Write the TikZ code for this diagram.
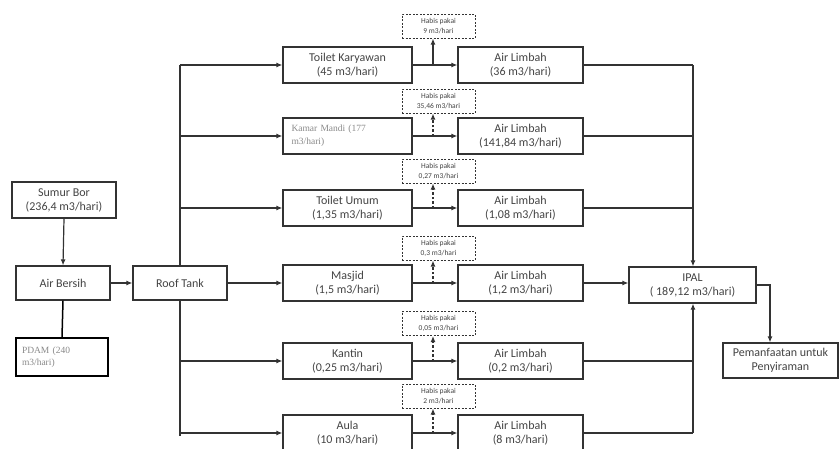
\documentclass[tikz,border=0pt]{standalone}
\usepackage{fontspec}
\setmainfont{Carlito}
\newfontfamily\grayserif{Liberation Serif}
\usetikzlibrary{arrows.meta}
\definecolor{ln}{HTML}{333333}
\definecolor{tx}{HTML}{444444}
\definecolor{gtx}{HTML}{8A8A8A}
\tikzset{
  box/.style={draw=ln, line width=1.2pt, fill=white, text=tx, align=center, inner sep=1pt, font=\fontsize{12}{14}\selectfont},
  habis/.style={draw=ln, dashed, dash pattern=on 2pt off 1.5pt, line width=1pt, fill=white, text=tx, align=center, minimum width=73pt, minimum height=24pt, inner sep=0pt, font=\fontsize{7.5}{10}\selectfont},
  con/.style={draw=ln, line width=1.2pt},
  arr/.style={con, -{Latex[length=6pt,width=5pt]}},
  darr/.style={arr, dashed, dash pattern=on 2.5pt off 2pt}
}
\begin{document}
\begin{tikzpicture}[x=1pt,y=-1pt]
\clip (0,0) rectangle (839,448);
\fill[white] (0,0) rectangle (839,448);

% left part
\node[box, minimum width=104pt, minimum height=36pt] (sumur) at (64,200) {Sumur Bor\\(236,4 m3/hari)};
\node[box, minimum width=94pt, minimum height=34pt] (bersih) at (63,283) {Air Bersih};
\node[box, draw=black, line width=1.5pt, minimum width=92pt, minimum height=38pt, text=gtx, align=left, text width=80pt, font=\grayserif\fontsize{9.5}{12}\selectfont] (pdam) at (62,357) {PDAM (240\\m3/hari)};
\node[box, minimum width=94pt, minimum height=34pt] (roof) at (180,283) {Roof Tank};

\draw[arr] (sumur.south) -- (bersih.north);
\draw[arr] (bersih.east) -- (roof.west);
\draw[con, draw=black, line width=1.5pt] (bersih.south) -- (pdam.north);

% rows
\foreach \n/\y/\src/\lim in {
  1/65/{Toilet Karyawan\\(45 m3/hari)}/{Air Limbah\\(36 m3/hari)},
  3/208/{Toilet Umum\\(1,35 m3/hari)}/{Air Limbah\\(1,08 m3/hari)},
  4/283/{Masjid\\(1,5 m3/hari)}/{Air Limbah\\(1,2 m3/hari)},
  5/361/{Kantin\\(0,25 m3/hari)}/{Air Limbah\\(0,2 m3/hari)},
  6/433/{Aula\\(10 m3/hari)}/{Air Limbah\\(8 m3/hari)}}{
  \node[box, minimum width=129pt, minimum height=36pt] (s\n) at (347.5,\y) {\src};
  \node[box, minimum width=125pt, minimum height=36pt] (l\n) at (520.5,\y) {\lim};
}
\node[box, minimum width=129pt, minimum height=36pt, text=gtx, align=left, text width=112pt, font=\grayserif\fontsize{9.5}{13}\selectfont] (s2) at (347.5,136) {Kamar Mandi (177\\m3/hari)};
\node[box, minimum width=125pt, minimum height=36pt] (l2) at (520.5,136) {Air Limbah\\(141,84 m3/hari)};

% habis pakai
\node[habis] (h1) at (438.5,26) {Habis pakai\\9 m3/hari};
\node[habis] (h2) at (438.5,101) {Habis pakai\\35,46 m3/hari};
\node[habis] (h3) at (438.5,171) {Habis pakai\\0,27 m3/hari};
\node[habis] (h4) at (438.5,248) {Habis pakai\\0,3 m3/hari};
\node[habis] (h5) at (438.5,323.5) {Habis pakai\\0,05 m3/hari};
\node[habis] (h6) at (438.5,396) {Habis pakai\\2 m3/hari};

\foreach \n in {1,...,6}{
  \draw[arr] (s\n.east) -- (l\n.west);
  \coordinate (j\n) at (433,0 |- s\n.east);
}
\draw[arr] (j1) -- (433,0 |- h1.south);
\foreach \n in {2,...,6}{
  \draw[darr] (j\n) -- (433,0 |- h\n.south);
}

% trunk
\coordinate (t1) at (180,65);
\draw[con, line width=1.5pt] (roof.north) -- (t1);
\draw[con, line width=1.5pt] (roof.south) -- (180,436);
\foreach \n in {1,2,3,5,6}{
  \draw[arr] (180,0 |- s\n.west) -- (s\n.west);
}
\draw[arr] (roof.east) -- (s4.west);

% IPAL
\node[box, minimum width=127pt, minimum height=36pt] (ipal) at (692.5,285) {IPAL\\( 189,12 m3/hari)};
\node[box, minimum width=115pt, minimum height=35pt] (pem) at (780.5,360.5) {Pemanfaatan untuk\\Penyiraman};

\draw[con] (l1.east) -- (693,0 |- l1.east);
\draw[con] (l2.east) -- (693,0 |- l2.east);
\draw[arr, line width=1.5pt] (693,0 |- l1.east) -- (ipal.north -| 693,0);
\draw[arr] (l4.east) -- (l4.east -| ipal.west);
\draw[con] (l3.east) -- (693,0 |- l3.east);
\draw[con] (l5.east) -- (693,0 |- l5.east);
\draw[con] (l6.east) -- (693,0 |- l6.east);
\draw[arr, line width=1.5pt] (693,0 |- l6.east) -- (ipal.south -| 693,0);
\draw[arr] (ipal.east) -- (770,0 |- ipal.east) -- (770,0 |- pem.north);
\end{tikzpicture}
\end{document}
